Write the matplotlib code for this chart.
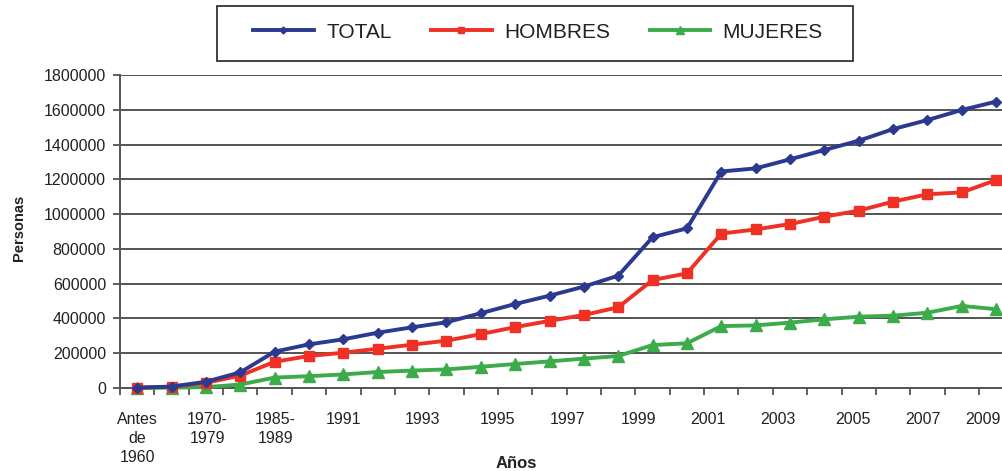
import matplotlib
matplotlib.use("Agg")
import matplotlib.pyplot as plt
from matplotlib.ticker import FixedLocator, NullFormatter
from matplotlib.patches import Rectangle

plt.rcParams['font.family'] = ['Liberation Sans', 'DejaVu Sans']

# Population series (persons) per period category
total = [2000, 8000, 36000, 90000, 209000, 251000, 280000, 318000, 349000,
         378000, 430000, 483000, 531000, 583000, 646000, 867000, 918000,
         1245000, 1263000, 1315000, 1369000, 1422000, 1489000, 1541000,
         1599000, 1647000]
hombres = [2000, 7500, 30000, 71000, 151000, 184000, 203000, 226000, 249000,
           272000, 310000, 350000, 386000, 420000, 464000, 621000, 659000,
           888000, 912000, 943000, 985000, 1020000, 1072000, 1114000,
           1125000, 1196000]
mujeres = [0, 2000, 5000, 20000, 60000, 68000, 78000, 92000, 100000,
           107000, 122000, 138000, 153000, 169000, 184000, 247000, 257000,
           356000, 360000, 376000, 395000, 410000, 416000, 433000,
           472000, 453000]

tick_labels = ["Antes\nde\n1960", "1970-\n1979", "1985-\n1989", "1991", "1993",
               "1995", "1997", "1999", "2001", "2003", "2005", "2007", "2009"]
label_positions = [0, 2.04, 4.02, 6.0, 8.29, 10.5, 12.53, 14.6, 16.6,
                   18.66, 20.84, 22.88, 24.62]

y_ticks = [0, 200000, 400000, 600000, 800000, 1000000, 1200000, 1400000,
           1600000, 1800000]

W, H = 1002, 471
fig = plt.figure(figsize=(W / 100, H / 100), dpi=100)
n = len(total)
step_px = 34.36
ax = fig.add_axes([120 / W, 83 / H, n * step_px / W, 313 / H])

x = list(range(n))
c_total = '#2b3990'
c_hom = '#ee3124'
c_muj = '#3cab4a'
ax.plot(x, total, color=c_total, lw=2.8, marker='D', ms=5, label='TOTAL',
        zorder=5, clip_on=False)
ax.plot(x, hombres, color=c_hom, lw=2.8, marker='s', ms=7, label='HOMBRES',
        zorder=4, clip_on=False)
ax.plot(x, mujeres, color=c_muj, lw=2.8, marker='^', ms=8, label='MUJERES',
        zorder=3, clip_on=False)

ax.set_xlim(-0.5, n - 0.5)
ax.set_ylim(0, 1800000)

# Category boundaries carry the tick marks, labels sit on minor ticks
ax.xaxis.remove_overlapping_locs = False
ax.xaxis.set_major_locator(FixedLocator([i - 0.5 for i in range(n + 1)]))
ax.xaxis.set_major_formatter(NullFormatter())
ax.xaxis.set_minor_locator(FixedLocator(label_positions))
ax.set_xticklabels(tick_labels, minor=True, fontsize=11.5, color='#222222',
                   linespacing=1.35)
ax.tick_params(axis='x', which='major', direction='out', length=5, width=1.2,
               color='#444444')
ax.tick_params(axis='x', which='minor', length=0, pad=17)

ax.set_yticks(y_ticks)
ax.set_yticklabels([str(v) for v in y_ticks], fontsize=11.5, color='#222222')
ax.tick_params(axis='y', direction='out', length=5, width=1.2,
               color='#444444', pad=5)

ax.grid(axis='y', color='#454545', lw=1.3)
ax.set_axisbelow(True)
for side in ('top', 'right'):
    ax.spines[side].set_visible(False)
for side in ('left', 'bottom'):
    ax.spines[side].set_color('#555555')
    ax.spines[side].set_linewidth(1.4)

fig.text(516 / W, 1 - 463 / H, 'Años', ha='center', va='center',
         fontsize=12, fontweight='bold', color='#222222')
fig.text(19 / W, 1 - 228 / H, 'Personas', ha='center', va='center',
         rotation=90, fontsize=10.5, fontweight='bold', color='#222222')

# Legend entries without their own frame; the box is drawn separately
leg = fig.legend(loc='center', bbox_to_anchor=(538 / W, 1 - 32 / H),
                 ncol=3, fontsize=15, frameon=False,
                 handlelength=2.9, handletextpad=0.6,
                 columnspacing=1.9, markerscale=0.7)
for t in leg.get_texts():
    t.set_color('#222222')
fig.patches.append(Rectangle((217 / W, 1 - 61 / H), 636 / W, 55 / H,
                             transform=fig.transFigure, fill=False,
                             edgecolor='#333333', lw=1.3))

fig.savefig('out.png', dpi=100)
